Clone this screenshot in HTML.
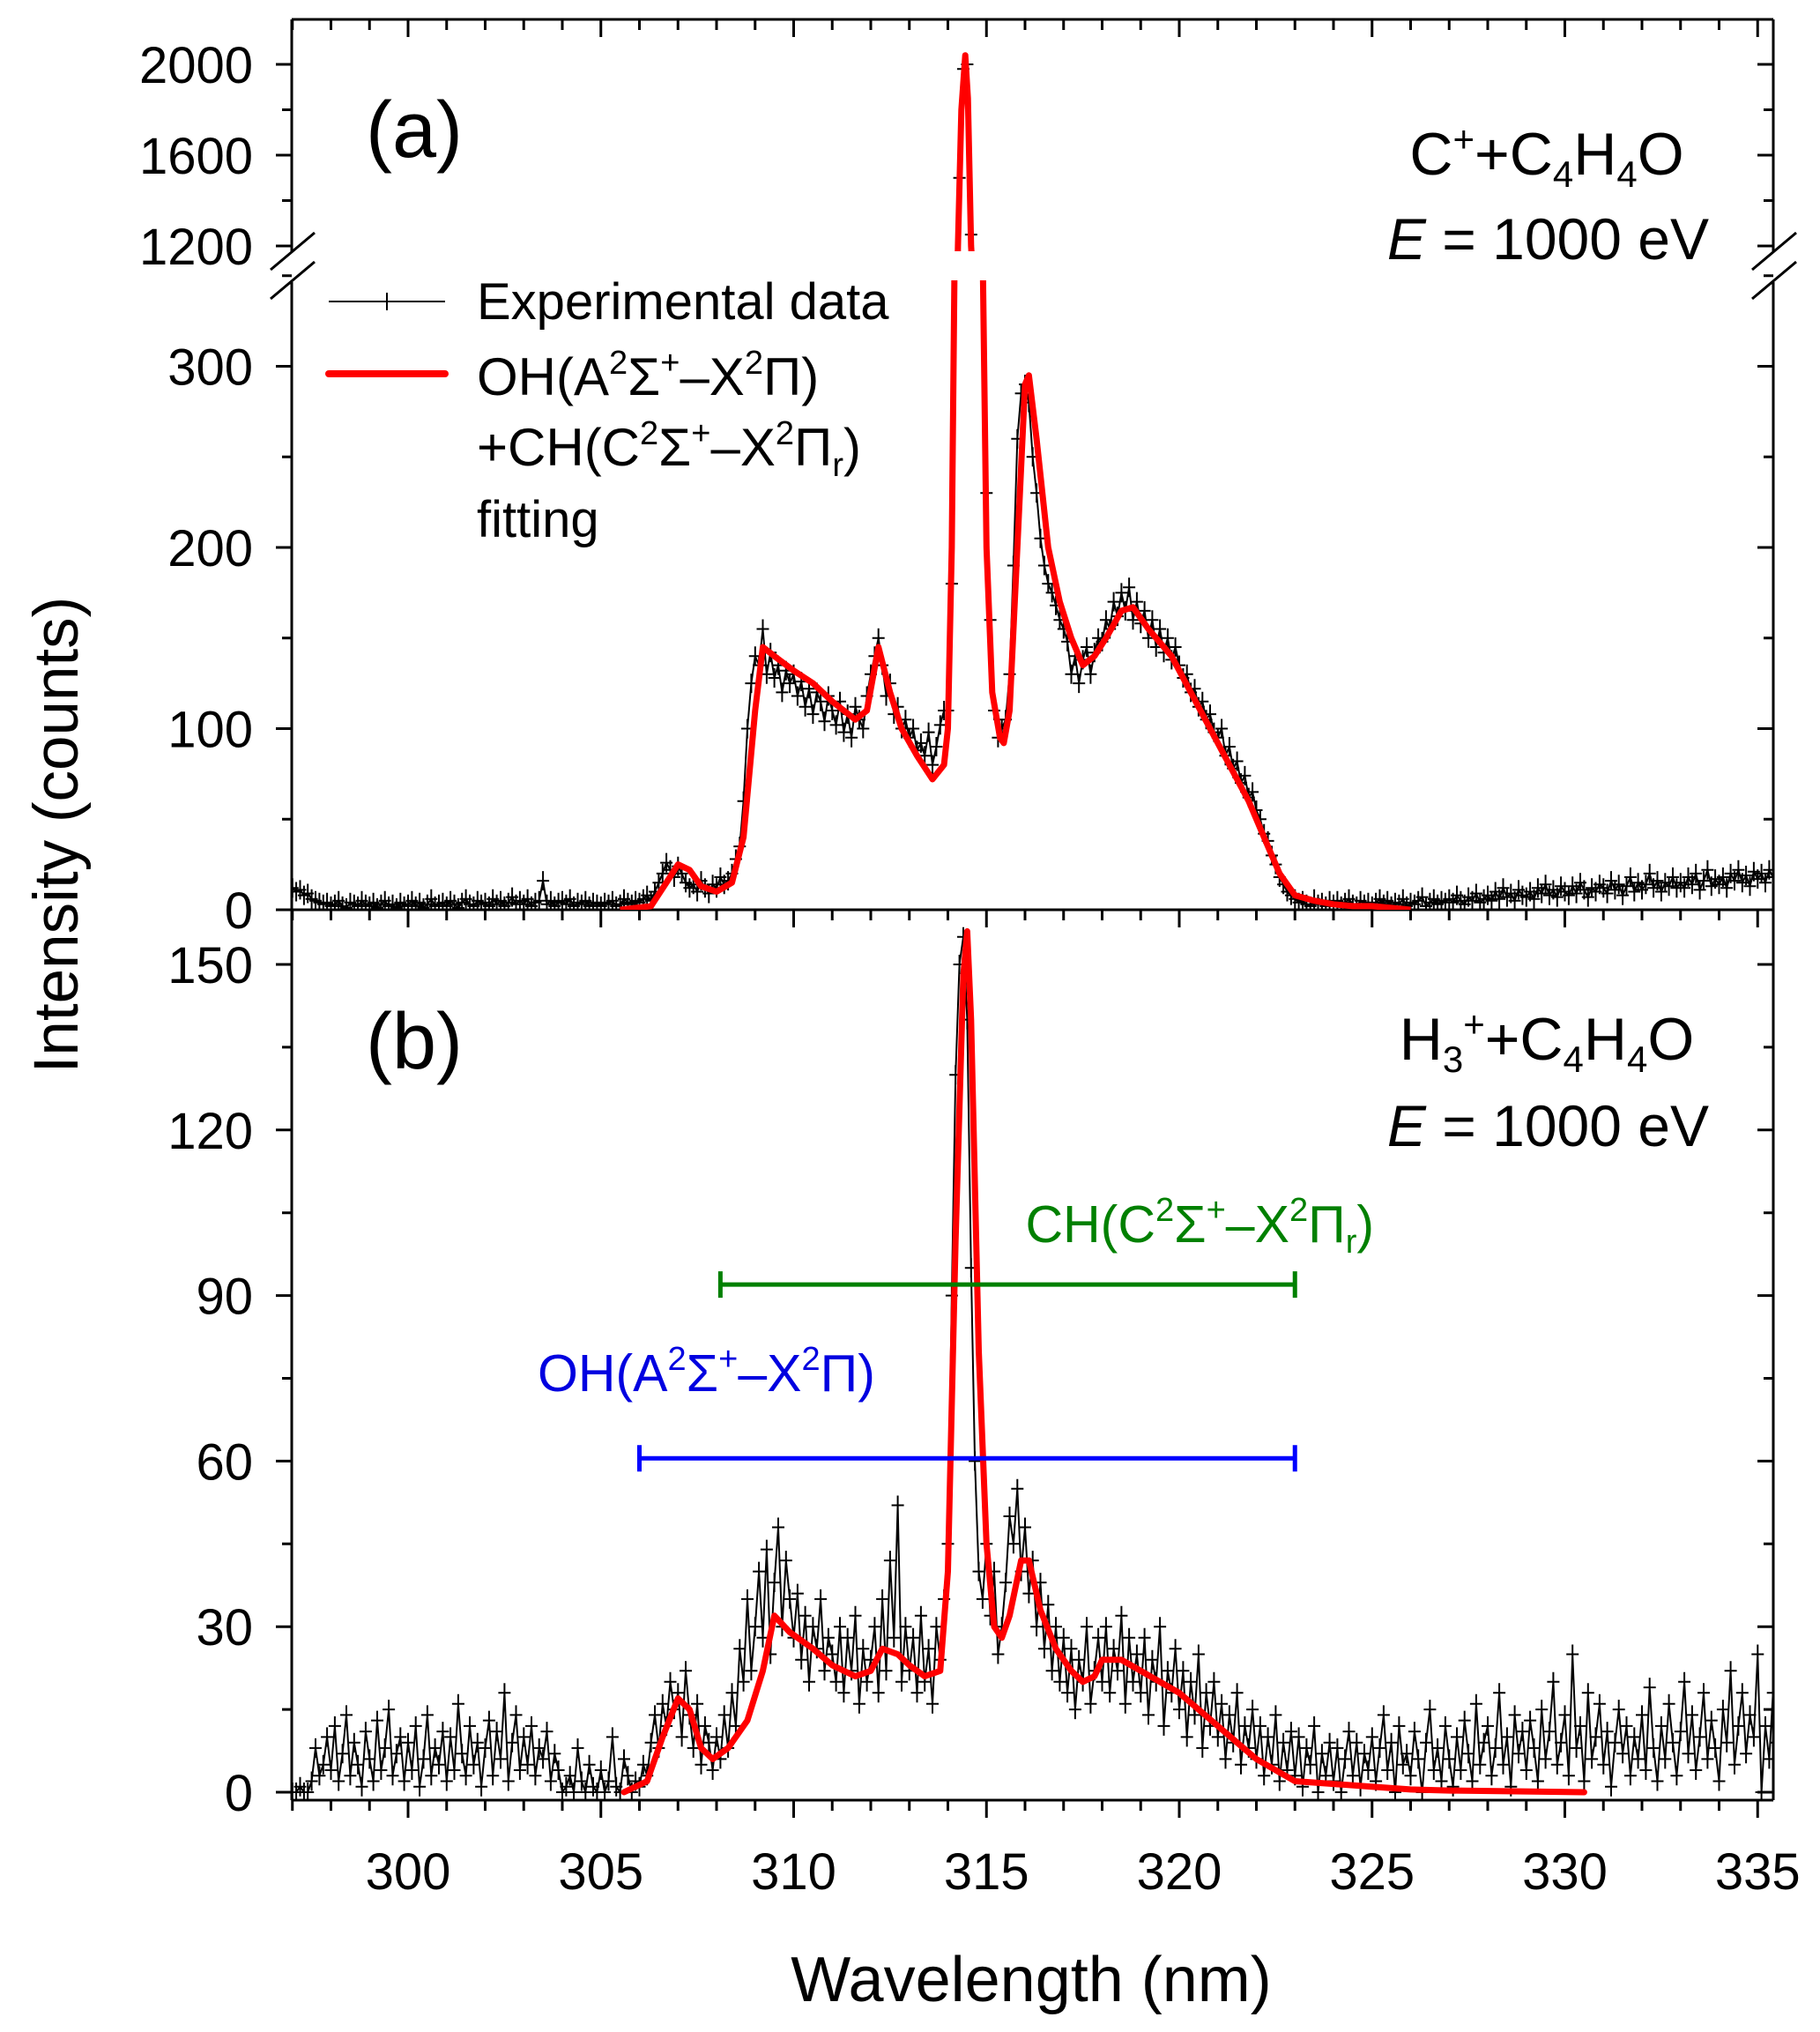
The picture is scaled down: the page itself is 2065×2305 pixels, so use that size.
<!DOCTYPE html>
<html><head><meta charset="utf-8"><style>
html,body{margin:0;padding:0;background:#fff;}
svg{display:block;font-family:"Liberation Sans",Arial,sans-serif;}
</style></head><body>
<svg id="chart" width="2065" height="2305" viewBox="0 0 2065 2305" xmlns="http://www.w3.org/2000/svg">
<defs>
<clipPath id="clipLow"><rect x="331" y="318" width="1681" height="714"/></clipPath>
<clipPath id="clipUp"><rect x="331" y="22" width="1681" height="263"/></clipPath>
<clipPath id="clipB"><rect x="331" y="1032" width="1681" height="1010"/></clipPath>
</defs>
<g id="axes"></g>
<g id="marks"></g>
<text x="470" y="178" font-size="90" text-anchor="middle">(a)</text>
<text x="470" y="1212" font-size="90" text-anchor="middle">(b)</text>
<text x="1755" y="198" font-size="68" text-anchor="middle">C<tspan dy="-26" font-size="42">+</tspan><tspan dy="26">+C</tspan><tspan dy="14" font-size="42">4</tspan><tspan dy="-14">H</tspan><tspan dy="14" font-size="42">4</tspan><tspan dy="-14">O</tspan></text>
<text x="1939" y="294" font-size="66" text-anchor="end"><tspan font-style="italic">E</tspan> = 1000 eV</text>
<text x="1755" y="1202" font-size="68" text-anchor="middle">H<tspan dy="14" font-size="42">3</tspan><tspan dy="-40" font-size="42">+</tspan><tspan dy="26">+C</tspan><tspan dy="14" font-size="42">4</tspan><tspan dy="-14">H</tspan><tspan dy="14" font-size="42">4</tspan><tspan dy="-14">O</tspan></text>
<text x="1939" y="1300" font-size="66" text-anchor="end"><tspan font-style="italic">E</tspan> = 1000 eV</text>
<g>
<line x1="373" y1="342" x2="505" y2="342" stroke="#000" stroke-width="2"/>
<line x1="439" y1="332" x2="439" y2="352" stroke="#000" stroke-width="2"/>
<text x="541" y="362" font-size="58">Experimental data</text>
<line x1="373" y1="424" x2="505" y2="424" stroke="#f00" stroke-width="8" stroke-linecap="round"/>
<text x="541" y="448" font-size="60">OH(A<tspan dy="-24" font-size="38">2</tspan><tspan dy="24">Σ</tspan><tspan dy="-24" font-size="38">+</tspan><tspan dy="24">–X</tspan><tspan dy="-24" font-size="38">2</tspan><tspan dy="24">Π)</tspan></text>
<text x="541" y="528" font-size="60">+CH(C<tspan dy="-24" font-size="38">2</tspan><tspan dy="24">Σ</tspan><tspan dy="-24" font-size="38">+</tspan><tspan dy="24">–X</tspan><tspan dy="-24" font-size="38">2</tspan><tspan dy="24">Π</tspan><tspan dy="12" font-size="38">r</tspan><tspan dy="-12">)</tspan></text>
<text x="541" y="609" font-size="58">fitting</text>
</g>
<text x="1559" y="1409" font-size="59" fill="#008000" text-anchor="end">CH(C<tspan dy="-24" font-size="38">2</tspan><tspan dy="24">Σ</tspan><tspan dy="-24" font-size="38">+</tspan><tspan dy="24">–X</tspan><tspan dy="-24" font-size="38">2</tspan><tspan dy="24">Π</tspan><tspan dy="12" font-size="38">r</tspan><tspan dy="-12">)</tspan></text>
<text x="610" y="1578" font-size="59" fill="#0000e0">OH(A<tspan dy="-24" font-size="38">2</tspan><tspan dy="24">Σ</tspan><tspan dy="-24" font-size="38">+</tspan><tspan dy="24">–X</tspan><tspan dy="-24" font-size="38">2</tspan><tspan dy="24">Π)</tspan></text>
<text x="1170" y="2270" font-size="72" text-anchor="middle">Wavelength (nm)</text>
<text x="0" y="0" font-size="71" text-anchor="middle" transform="translate(88,947) rotate(-90)">Intensity (counts)</text>
</svg>
<script>
// ---- data ----
const xTicks = [300,305,310,315,320,325,330,335];
const yTicksA = [0,100,200,300];
const yTicksAUp = [1200,1600,2000];
const yTicksB = [0,30,60,90,120,150];
const expStart = 297.0, expStep = 0.1;
const expA = [12,10,11,8,9,6,5,4,3,4, 2,3,5,2,1,4,3,2,5,3, 2,4,1,3,5,2,3,1,4,2, 3,5,2,4,1,3,6,2,3,4,
 2,5,3,1,4,6,3,2,5,3, 4,2,6,3,5,2,4,7,3,5, 3,6,2,4,5,16,3,5,2,4, 5,3,6,2,4,3,5,2,4,3,
 2,4,3,5,2,3,6,4,3,5, 4,6,8,5,10,15,20,26,22,18, 24,20,15,12,14,10,16,12,9,14, 12,18,14,16,20,28,35,60,100,125,
 140,135,155,130,142,128,135,120,132,125, 130,118,126,112,122,108,120,115,104,118, 110,102,115,98,108,95,112,105,100,118,
 130,140,150,135,118,125,108,112,100,105, 95,100,88,92,85,98,80,90,102,110, 110,180,600,1500,1980,2000,1250,800,550,360,
 230,160,110,95,100,105,130,190,260,285, 290,280,250,230,205,190,180,175,168,160, 155,148,130,140,125,138,145,130,142,150,
 148,160,155,170,162,175,165,178,160,170, 158,165,150,160,145,155,142,150,138,145, 135,128,130,120,122,112,115,105,108,98,
 95,100,85,90,78,82,70,74,62,65, 55,50,42,38,30,25,18,14,10,8, 6,4,5,3,2,6,3,4,2,5, 3,5,2,4,6,3,2,5,3,4,
 2,4,6,3,5,2,4,3,6,2, 4,3,5,7,2,4,6,3,5,4, 6,4,8,5,3,7,5,9,4,6, 8,5,10,6,12,7,9,5,11,8, 7,10,6,12,9,14,8,11,7,13,
 10,8,13,9,15,11,7,12,10,14, 12,9,16,11,14,8,13,18,10,15, 11,14,20,12,16,10,15,13,18,12, 15,12,18,14,20,11,16,22,13,17,
 14,18,12,20,16,22,15,19,13,21, 17,20,15,22,18,20];
const expB = [0,0,1,0,0,2,8,3,5,10, 4,12,2,7,14,3,9,5,1,11, 6,2,13,4,8,15,3,7,10,2, 9,4,12,1,6,14,3,8,5,11,
 2,10,4,16,7,3,12,5,9,1, 8,13,3,11,6,18,2,9,14,4, 10,5,12,3,8,6,11,2,7,4, 0,1,3,0,8,2,0,5,1,0,
 4,0,2,10,1,0,6,3,0,2, 1,5,3,9,14,8,16,12,20,15, 18,10,22,14,8,16,5,12,9,4, 10,6,14,8,18,12,26,20,35,22,
 30,40,28,44,25,38,48,30,42,35, 28,36,24,32,20,30,26,35,22,28, 25,20,30,18,28,22,32,16,26,20,
 24,30,18,35,22,42,28,52,20,30, 22,28,18,32,20,26,16,30,24,35, 45,90,130,150,155,140,95,60,40,35,
 45,32,40,25,30,38,50,45,55,40, 48,36,42,30,38,26,34,22,30,20, 28,18,26,15,24,20,30,16,22,28,
 20,30,18,26,22,32,16,28,20,25, 18,28,14,24,20,30,12,22,18,26, 15,22,10,20,14,25,8,18,12,20,
 10,16,6,14,9,18,5,12,8,15, 6,12,3,10,5,14,2,9,4,11, 3,10,1,8,5,12,0,7,3,9, 2,8,0,6,11,3,9,1,7,4,
 10,2,8,14,4,9,0,12,5,7, 3,11,6,0,9,15,4,8,2,12, 6,1,10,4,13,7,2,16,5,9, 12,3,8,18,5,10,1,14,7,11,
 4,13,8,2,15,6,11,20,5,9, 14,3,25,8,12,2,18,6,10,16, 5,11,1,9,15,7,12,3,10,6, 14,4,19,8,2,12,6,16,9,3,
 11,20,7,14,4,10,18,6,13,8, 2,15,9,22,5,12,18,7,14,10, 25,0,12,6,18,9];
const fitAx = [305.5,306.3,306.7,307.0,307.3,307.6,308.0,308.4,308.7,309.0,309.2,309.5,310,310.5,311,311.6,311.9,312.2,312.5,312.8,313.2,313.6,313.9,314.0,314.1,314.17,314.26,314.35,314.45,314.52,314.6,314.91,315.0,315.15,315.35,315.45,315.6,315.8,316.0,316.1,316.3,316.6,316.9,317.2,317.5,317.8,318.1,318.5,318.8,319.2,319.8,320.3,320.8,321.3,321.8,322.2,322.6,323.0,323.5,324,324.5,325,325.5,326];
const fitAy = [0,2,15,25,22,13,10,15,40,110,145,140,132,125,115,105,110,145,120,100,85,72,80,100,200,350,1200,1800,2040,1850,1200,350,200,120,95,92,110,200,290,295,260,200,170,150,135,140,150,165,167,155,140,120,100,80,60,40,20,8,5,3,2,2,1,0];
const fitBx = [305.6,306.2,306.6,307.0,307.3,307.6,307.9,308.3,308.8,309.2,309.5,309.9,310.5,311,311.6,312.0,312.3,312.7,313.0,313.4,313.8,314.0,314.2,314.4,314.5,314.6,314.8,315.0,315.2,315.4,315.6,315.9,316.1,316.4,316.8,317.2,317.5,317.8,318.0,318.5,319,319.5,320,320.5,321,321.5,322,322.5,323,324,325,326,327,330.5];
const fitBy = [0,2,10,17,15,8,6,8,13,22,32,29,26,23,21,22,26,25,23,21,22,40,100,148,156,140,80,45,30,28,32,42,42,33,26,22,20,21,24,24,22,20,18,15,12,9,6,4,2,1.5,1,0.5,0.3,0];
const bandCH = [308.1, 323.0, 92];
const bandOH = [306.0, 323.0, 60.5];

// ---- scales ----
const X = nm => 463 + (nm - 300) * 43.75;
const YA = v => 1032 - v * 2.055;
const YAU = v => 279 - (v - 1200) * 103 / 400;
const YB = v => 2033 - v * 6.26;
const NS = 'http://www.w3.org/2000/svg';
const axes = document.getElementById('axes');
const marks = document.getElementById('marks');
function mk(tag, attrs, parent) {
  const e = document.createElementNS(NS, tag);
  for (const k in attrs) e.setAttribute(k, attrs[k]);
  parent.appendChild(e);
  return e;
}
const L = 331, R = 2012, T = 22, MID = 1032, B = 2042;

let d = `M${L},${T}H${R}M${L},${MID}H${R}M${L},${B}H${R}`;
d += `M${L},${T}V285M${L},318V${B}M${R},${T}V285M${R},318V${B}`;
d += `M307,306L357,264M307,339L357,297M1988,306L2038,264M1988,339L2038,297`;
for (let nm = 297; nm <= 335; nm++) {
  const x = X(nm), len = nm % 5 === 0 ? 20 : 12;
  d += `M${x},${T}v${len}M${x},${MID}v${len}M${x},${B}v${len}`;
}
for (let v = 0; v <= 350; v += 50) {
  const y = YA(v), len = v % 100 === 0 ? 18 : 11;
  d += `M${L},${y}h${-len}M${R},${y}h${-len}`;
}
for (let v = 1200; v <= 2000; v += 200) {
  const y = YAU(v), len = v % 400 === 0 ? 18 : 11;
  d += `M${L},${y}h${-len}M${R},${y}h${-len}`;
}
for (let v = 0; v <= 150; v += 15) {
  const y = YB(v), len = v % 30 === 0 ? 18 : 11;
  d += `M${L},${y}h${-len}M${R},${y}h${-len}`;
}
const frame = mk('path', {d: d, stroke: '#000', 'stroke-width': 3, fill: 'none'}, axes);



function label(txt, x, y, anchor, name) {
  const t = mk('text', {x: x, y: y, 'font-size': 58, 'text-anchor': anchor}, axes);
  t.textContent = txt;
  
  
}
xTicks.forEach(v => label(String(v), X(v), 2143, 'middle', 'x-tick-label'));
yTicksA.forEach(v => label(String(v), 287, YA(v) + 21, 'end', 'y-tick-label-a'));
yTicksAUp.forEach(v => label(String(v), 287, YAU(v) + 21, 'end', 'y-tick-label-a-upper'));
yTicksB.forEach(v => label(String(v), 287, YB(v) + 21, 'end', 'y-tick-label-b'));

function expPaths(arr, yf) {
  let line = '', plus = '';
  arr.forEach((v, i) => {
    const x = X(expStart + i * expStep), y = yf(v);
    line += (i ? 'L' : 'M') + x.toFixed(1) + ',' + y.toFixed(1);
    plus += `M${(x - 7).toFixed(1)},${y.toFixed(1)}h14M${x.toFixed(1)},${(y - 11).toFixed(1)}v22`;
  });
  return line + plus;
}
function fitPath(xs, ys, yf) {
  return xs.map((x, i) => (i ? 'L' : 'M') + X(x).toFixed(1) + ',' + yf(ys[i]).toFixed(1)).join('');
}
const eaL = mk('path', {d: expPaths(expA, YA), stroke: '#000', 'stroke-width': 2, fill: 'none', 'clip-path': 'url(#clipLow)'}, marks);


const eaU = mk('path', {d: expPaths(expA, YAU), stroke: '#000', 'stroke-width': 2, fill: 'none', 'clip-path': 'url(#clipUp)'}, marks);


const eb = mk('path', {d: expPaths(expB, YB), stroke: '#000', 'stroke-width': 2, fill: 'none', 'clip-path': 'url(#clipB)'}, marks);



const faL = mk('path', {d: fitPath(fitAx, fitAy, YA), stroke: '#f00', 'stroke-width': 7, fill: 'none', 'stroke-linejoin': 'round', 'clip-path': 'url(#clipLow)'}, marks);


const faU = mk('path', {d: fitPath(fitAx, fitAy, YAU), stroke: '#f00', 'stroke-width': 7, fill: 'none', 'stroke-linejoin': 'round', 'clip-path': 'url(#clipUp)'}, marks);


const fb = mk('path', {d: fitPath(fitBx, fitBy, YB), stroke: '#f00', 'stroke-width': 7, fill: 'none', 'stroke-linejoin': 'round', 'stroke-linecap': 'round'}, marks);



function band(b, color, name) {
  const x1 = X(b[0]), x2 = X(b[1]), y = YB(b[2]);
  const p = mk('path', {d: `M${x1},${y}H${x2}M${x1},${y - 15}v30M${x2},${y - 15}v30`, stroke: color, 'stroke-width': 5, fill: 'none'}, marks);
  
  
}
band(bandCH, '#008000', 'ch-band-range');
band(bandOH, '#0000ff', 'oh-band-range');
</script>
</body></html>
